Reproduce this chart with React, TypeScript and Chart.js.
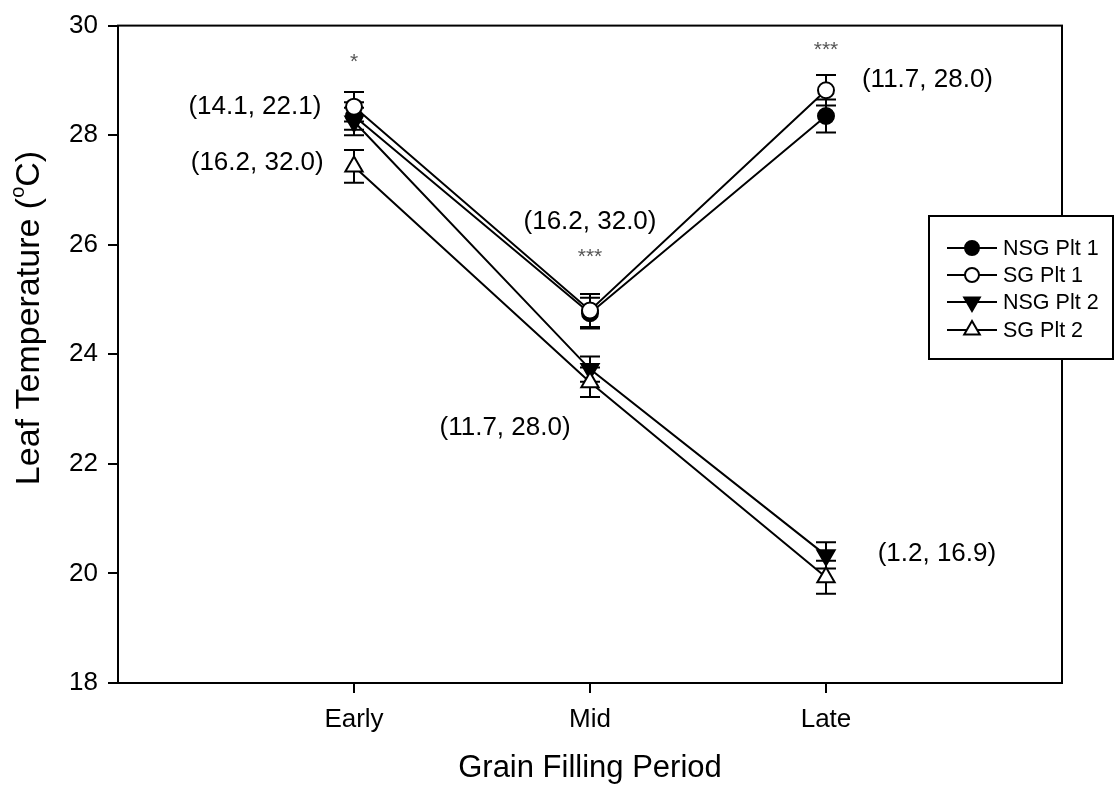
import React, { useEffect, useRef } from "react";
import { Chart, registerables } from "chart.js";

Chart.register(...registerables);

const FONT = "'Liberation Sans', Arial, Helvetica, sans-serif";

const categories = ["Early", "Mid", "Late"];
const xPositions = [1, 2, 3];
const seriesNames = ["NSG Plt 1", "SG Plt 1", "NSG Plt 2", "SG Plt 2"];

const nsgPlt1 = [28.35, 24.75, 28.35];
const nsgPlt1Err = [0.25, 0.28, 0.3];
const sgPlt1 = [28.52, 24.8, 28.82];
const sgPlt1Err = [0.27, 0.3, 0.28];
const nsgPlt2 = [28.25, 23.73, 20.33];
const nsgPlt2Err = [0.25, 0.23, 0.24];
const sgPlt2 = [27.43, 23.49, 19.93];
const sgPlt2Err = [0.3, 0.27, 0.3];

const yTicks = [18, 20, 22, 24, 26, 28, 30];

const annotationTexts = ["(14.1, 22.1)", "(16.2, 32.0)", "(16.2, 32.0)", "(11.7, 28.0)", "(11.7, 28.0)", "(1.2, 16.9)"];
const annotationX = [0.58, 0.59, 2.0, 1.64, 3.43, 3.47];
const annotationY = [28.52, 27.49, 26.41, 22.65, 29.01, 20.35];

const significance = ["*", "***", "***"];
const significanceY = [29.33, 25.78, 29.55];

const seriesValues = [nsgPlt1, sgPlt1, nsgPlt2, sgPlt2];
const seriesErrors = [nsgPlt1Err, sgPlt1Err, nsgPlt2Err, sgPlt2Err];
const seriesStyle = [
  { pointStyle: "circle", fill: "#000000", rotation: 0, radius: 8 },
  { pointStyle: "circle", fill: "#ffffff", rotation: 0, radius: 8 },
  { pointStyle: "triangle", fill: "#000000", rotation: 180, radius: 10 },
  { pointStyle: "triangle", fill: "#ffffff", rotation: 0, radius: 10 },
];

function drawMarker(ctx: CanvasRenderingContext2D, style: any, x: number, y: number, r: number) {
  ctx.beginPath();
  if (style.pointStyle === "circle") {
    ctx.arc(x, y, r, 0, Math.PI * 2);
  } else {
    let rad = (style.rotation * Math.PI) / 180;
    for (let k = 0; k < 3; k++) {
      const px = x + Math.sin(rad) * r;
      const py = y - Math.cos(rad) * r;
      if (k === 0) ctx.moveTo(px, py);
      else ctx.lineTo(px, py);
      rad += (2 * Math.PI) / 3;
    }
    ctx.closePath();
  }
  ctx.fillStyle = style.fill;
  ctx.fill();
  ctx.strokeStyle = "#000";
  ctx.lineWidth = 2;
  ctx.stroke();
}

const errorBarPlugin = {
  id: "errorBars",
  beforeDatasetsDraw(chart: any) {
    const { ctx, scales } = chart;
    const xs = scales.x;
    const ys = scales.y;
    ctx.save();
    ctx.strokeStyle = "#000";
    ctx.lineWidth = 2;
    seriesValues.forEach((vals, i) => {
      vals.forEach((v, j) => {
        const px = xs.getPixelForValue(xPositions[j]);
        const top = ys.getPixelForValue(v + seriesErrors[i][j]);
        const bot = ys.getPixelForValue(v - seriesErrors[i][j]);
        ctx.beginPath();
        ctx.moveTo(px, top);
        ctx.lineTo(px, bot);
        ctx.moveTo(px - 10, top);
        ctx.lineTo(px + 10, top);
        ctx.moveTo(px - 10, bot);
        ctx.lineTo(px + 10, bot);
        ctx.stroke();
      });
    });
    ctx.restore();
  },
};

const decorPlugin = {
  id: "decor",
  afterDraw(chart: any) {
    const { ctx, chartArea, scales } = chart;
    const xs = scales.x;
    const ys = scales.y;
    ctx.save();
    // frame
    ctx.strokeStyle = "#000";
    ctx.lineWidth = 2;
    ctx.strokeRect(chartArea.left, chartArea.top, chartArea.right - chartArea.left, chartArea.bottom - chartArea.top);

    // annotations
    ctx.fillStyle = "#000";
    ctx.font = `26px ${FONT}`;
    ctx.textAlign = "center";
    ctx.textBaseline = "middle";
    annotationTexts.forEach((t, i) => {
      ctx.fillText(t, xs.getPixelForValue(annotationX[i]), ys.getPixelForValue(annotationY[i]));
    });

    // significance marks
    ctx.fillStyle = "#555";
    ctx.font = `21px ${FONT}`;
    significance.forEach((t, i) => {
      ctx.fillText(t, xs.getPixelForValue(xPositions[i]), ys.getPixelForValue(significanceY[i]));
    });

    // x title
    ctx.fillStyle = "#000";
    ctx.font = `31px ${FONT}`;
    ctx.fillText("Grain Filling Period", (chartArea.left + chartArea.right) / 2, 768);

    // y title with superscript
    ctx.save();
    ctx.translate(30, 318);
    ctx.rotate(-Math.PI / 2);
    const p1 = "Leaf Temperature (";
    const p2 = "o";
    const p3 = "C)";
    ctx.font = `34px ${FONT}`;
    const w1 = ctx.measureText(p1).width;
    const w3 = ctx.measureText(p3).width;
    ctx.font = `20px ${FONT}`;
    const w2 = ctx.measureText(p2).width;
    let cx = -(w1 + w2 + w3) / 2;
    ctx.textAlign = "left";
    ctx.font = `34px ${FONT}`;
    ctx.fillText(p1, cx, 0);
    cx += w1;
    ctx.font = `20px ${FONT}`;
    ctx.fillText(p2, cx, -12);
    cx += w2;
    ctx.font = `34px ${FONT}`;
    ctx.fillText(p3, cx, 0);
    ctx.restore();

    // legend
    const lx = 929, ly = 216, lw = 184, lh = 143;
    ctx.fillStyle = "#fff";
    ctx.fillRect(lx, ly, lw, lh);
    ctx.strokeStyle = "#000";
    ctx.lineWidth = 2;
    ctx.strokeRect(lx, ly, lw, lh);
    const rowY = [248, 275, 302, 330];
    seriesNames.forEach((name, i) => {
      const y = rowY[i];
      ctx.beginPath();
      ctx.moveTo(947, y);
      ctx.lineTo(997, y);
      ctx.lineWidth = 2;
      ctx.strokeStyle = "#000";
      ctx.stroke();
      const st = seriesStyle[i];
      drawMarker(ctx, st, 972, y, st.radius - 1);
      ctx.fillStyle = "#000";
      ctx.font = `21.5px ${FONT}`;
      ctx.textAlign = "left";
      ctx.textBaseline = "middle";
      ctx.fillText(name, 1003, y + 1);
    });
    ctx.restore();
  },
};

export default function App() {
  const ref = useRef<HTMLCanvasElement>(null);
  useEffect(() => {
    if (!ref.current) return;
    const tickFont = { family: FONT, size: 26 };
    const chart = new Chart(ref.current, {
      type: "line",
      data: {
        datasets: seriesNames.map((name, i) => ({
          label: name,
          data: seriesValues[i].map((v, j) => ({ x: xPositions[j], y: v })),
          order: seriesNames.length - i,
          borderColor: "#000",
          borderWidth: 2,
          pointStyle: seriesStyle[i].pointStyle as any,
          pointRotation: seriesStyle[i].rotation,
          pointRadius: seriesStyle[i].radius,
          pointBackgroundColor: seriesStyle[i].fill,
          pointBorderColor: "#000",
          pointBorderWidth: 2,
          fill: false,
          tension: 0,
        })),
      },
      plugins: [errorBarPlugin, decorPlugin],
      options: {
        animation: false,
        responsive: false,
        maintainAspectRatio: false,
        layout: { padding: { top: 18, right: 53, bottom: 0, left: 0 } },
        plugins: { legend: { display: false }, tooltip: { enabled: false } },
        scales: {
          x: {
            type: "linear",
            min: 0,
            max: 4,
            afterBuildTicks: (s: any) => {
              s.ticks = xPositions.map((v) => ({ value: v }));
            },
            afterFit: (s: any) => {
              s.height = 111;
            },
            ticks: {
              callback: (v: any) => categories[xPositions.indexOf(Number(v))] ?? "",
              font: tickFont,
              color: "#000",
              padding: 11,
              maxRotation: 0,
              autoSkip: false,
            },
            grid: { drawOnChartArea: false, drawTicks: true, tickLength: 10, color: "#000", lineWidth: 2 },
            border: { display: true, color: "#000", width: 2 },
          },
          y: {
            type: "linear",
            min: 18,
            max: 30,
            afterBuildTicks: (s: any) => {
              s.ticks = yTicks.map((v) => ({ value: v }));
            },
            afterFit: (s: any) => {
              s.width = 118;
            },
            ticks: { font: tickFont, color: "#000", padding: 10 },
            grid: { drawOnChartArea: false, drawTicks: true, tickLength: 10, color: "#000", lineWidth: 2 },
            border: { display: true, color: "#000", width: 2 },
          },
        },
      },
    });
    return () => chart.destroy();
  }, []);
  return (
    <div style={{ position: "fixed", left: 0, top: 0, width: 1115, height: 794, background: "#fff" }}>
      <canvas ref={ref} width={1115} height={794} style={{ display: "block", width: 1115, height: 794 }} />
    </div>
  );
}
